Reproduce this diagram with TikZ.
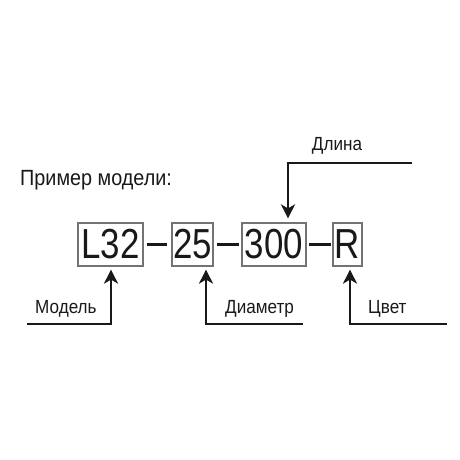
\documentclass[tikz,border=0pt]{standalone}
\usepackage{fontspec}
\setmainfont{Liberation Sans}
\newfontfamily\bigfnt[FakeStretch=0.83]{Liberation Sans}
\newfontfamily\lblfnt[FakeStretch=0.90]{Liberation Sans}
\usetikzlibrary{arrows.meta,calc}
\begin{document}
\begin{tikzpicture}[x=1pt,y=-1pt,
  codebox/.style={draw=black!55,line width=1.2pt,inner sep=0pt,minimum height=43pt,font=\bigfnt\fontsize{42}{42}\selectfont,text=black!90},
  dashln/.style={line width=3pt,black!90},
  arr/.style={line width=2.6pt,black!90,-{Stealth[length=14pt,width=14pt,inset=4pt]}},
  lbl/.style={font=\lblfnt\fontsize{19}{22}\selectfont,inner sep=0pt,text=black!90},
  title/.style={font=\lblfnt\fontsize{22}{26}\selectfont,inner sep=0pt,text=black!90}]
\useasboundingbox (0,0) rectangle (460,460);
\fill[white] (0,0) rectangle (460,460);
\node[title,anchor=west] (ttl) at (20,180) {Пример модели:};
\node[codebox,minimum width=65pt] (bL) at (110.5,244.5) {L32};
\node[codebox,minimum width=41pt] (b25) at (192.5,244.5) {25};
\node[codebox,minimum width=64pt] (b300) at (274,244.5) {300};
\node[codebox,minimum width=29pt] (bR) at (347.5,244.5) {R};
\draw[dashln,shorten <=3pt,shorten >=4pt] (bL.east) -- (b25.west);
\draw[dashln,shorten <=3pt,shorten >=2pt] (b25.east) -- (b300.west);
\draw[dashln,shorten <=2pt,shorten >=1pt] (b300.east) -- (bR.west);
% Длина
\coordinate (dlE) at (412,163);
\coordinate (dlC) at (288,163);
\node[lbl] (dl) at (337,146) {Длина};
\draw[arr,shorten >=4pt] (dlE) -- (dlC) -- (dlC |- b300.north);
% Модель
\coordinate (mS) at (27,324);
\coordinate (mC) at (111,324);
\node[lbl,anchor=west] (ml) at (35,309) {Модель};
\draw[arr,shorten >=3pt] (mS) -- (mC) -- (mC |- bL.south);
% Диаметр
\coordinate (dE) at (303,324);
\coordinate (dC) at (206,324);
\node[lbl,anchor=west] (dml) at (225,309) {Диаметр};
\draw[arr,shorten >=3pt] (dE) -- (dC) -- (dC |- b25.south);
% Цвет
\coordinate (cE) at (447,324);
\coordinate (cC) at (350,324);
\node[lbl,anchor=west] (cl) at (368,309) {Цвет};
\draw[arr,shorten >=3pt] (cE) -- (cC) -- (cC |- bR.south);
\end{tikzpicture}
\end{document}
